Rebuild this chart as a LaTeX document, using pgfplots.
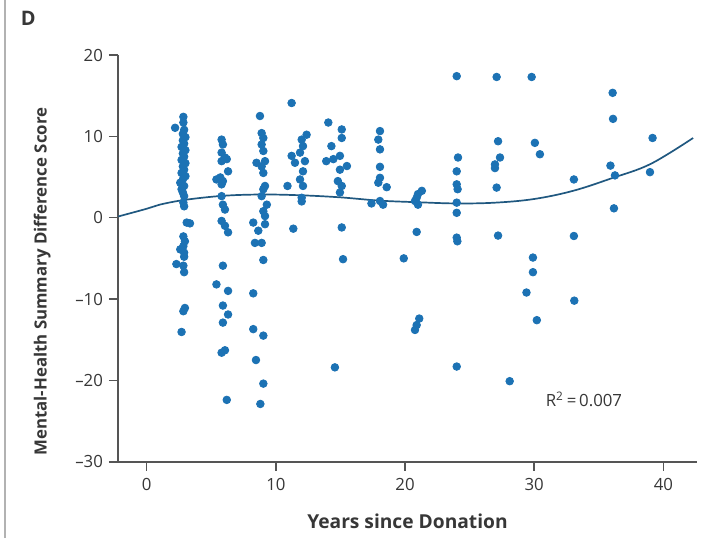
\documentclass[border=0pt]{standalone}
\usepackage{pgfplots}
\pgfplotsset{compat=1.18}
\usepackage{fontspec}
\setmainfont{Open Sans}
\definecolor{dotblue}{RGB}{28,114,180}
\definecolor{fitblue}{RGB}{32,88,128}
\definecolor{axgray}{RGB}{85,85,85}
\definecolor{txtgray}{RGB}{55,55,55}
\begin{document}
\begin{tikzpicture}
\fill[white] (-59pt,-38.15pt) rectangle (294.5pt,230.85pt);
\useasboundingbox (-59pt,-38.15pt) rectangle (294.5pt,230.85pt);
\draw[gray!60,line width=1.3pt] (-56.5pt,-38.15pt) -- (-56.5pt,230.85pt);
\begin{axis}[
  at={(0,0)}, anchor=south west,
  scale only axis, width=289.5pt, height=203.35pt,
  xmin=-2.22, xmax=42.6, ymin=-30, ymax=20,
  axis lines*=left,
  axis line style={axgray, line width=0.9pt},
  xtick={0,10,20,30,40}, ytick={-30,-20,-10,0,10,20},
  yticklabels={--30,--20,--10,0,10,20},
  tick style={axgray, line width=0.8pt},
  tick align=outside, major tick length=4.5pt,
  tick label style={font=\fontsize{8.4}{10}\selectfont, text=txtgray},
  /pgf/number format/assume math mode=true,
  xticklabel style={yshift=-0.5pt},
  yticklabel style={xshift=0.5pt},
  xlabel={Years since Donation},
  ylabel={Mental-Health Summary Difference Score},
  xlabel style={font=\bfseries\fontsize{9.6}{11}\selectfont, text=txtgray, at={(axis description cs:0.5,-0.146)}, anchor=center},
  ylabel style={font=\bfseries\fontsize{8.4}{10}\selectfont, text=txtgray, at={(axis description cs:-0.131,0.443)}, anchor=center, rotate=0},
  clip=false,
]
\addplot[fitblue, line width=0.85pt, smooth, tension=0.6] coordinates {
(-2.2,0.15) (0,1.1) (1,1.6) (3,2.2) (6,2.7) (9,2.85) (12,2.75) (15,2.5) (18,2.1)
(21,1.9) (24,1.75) (27,1.85) (30,2.3) (33,3.3) (36,4.85) (39,6.6) (42.3,9.8)
};
\addplot[only marks, mark=*, mark size=1.9pt, color=dotblue, mark options={draw=dotblue, fill=dotblue}] coordinates {
(2.2,11.05) (2.84,12.4) (2.84,11.7) (2.9,10.8) (2.8,10.3) (3.0,9.9) (2.8,9.5) (2.9,9.1)
(2.7,8.7) (3.0,8.3) (2.8,7.9) (2.9,7.5) (2.7,7.1) (3.0,6.7) (2.8,6.3) (2.9,5.9)
(2.7,5.5) (3.0,5.1) (2.8,4.7) (2.6,4.3) (2.9,3.9) (2.7,3.5) (2.8,3.1) (2.9,2.65)
(2.84,1.85) (2.9,1.4) (3.1,-0.6) (3.35,-0.7) (2.84,-2.3) (2.96,-2.9) (2.6,-3.9) (2.84,-3.5)
(2.9,-4.3) (2.9,-4.8) (2.3,-5.7) (2.84,-5.9) (2.9,-6.7) (2.96,-11.1) (2.84,-11.5) (2.7,-14.05)
(5.8,9.6) (5.9,9.0) (5.8,8.0) (6.06,7.4) (6.2,7.2) (5.8,6.95) (6.3,5.7) (5.7,4.95)
(5.4,4.7) (5.9,4.5) (5.8,4.1) (5.8,2.65) (5.9,1.6) (6.06,1.0) (5.8,-0.4) (6.06,-1.0)
(6.3,-1.8) (5.9,-5.9) (5.4,-8.2) (6.3,-9.0) (5.9,-10.8) (6.3,-11.9) (5.9,-12.9) (5.8,-16.6)
(6.06,-16.3) (6.2,-22.4)
(8.77,12.5) (8.9,10.4) (9.03,9.8) (8.9,9.0) (9.03,8.2) (9.16,6.95) (8.5,6.75) (8.9,6.3)
(9.03,5.5) (9.16,3.9) (9.03,3.5) (8.9,2.65) (9.3,1.6) (9.03,0.8) (9.16,0.2) (8.25,-0.6)
(9.16,-0.8) (8.64,-1.6) (8.38,-3.1) (8.9,-3.1) (9.03,-5.2) (8.25,-9.3) (8.25,-13.7) (9.03,-14.5)
(8.46,-17.5) (9.03,-20.4) (8.8,-22.9)
(11.22,14.1) (12.38,10.2) (12.0,9.6) (12.1,8.8) (11.22,7.6) (11.87,8.0) (11.48,6.75) (12.25,6.95)
(12.1,5.7) (11.87,4.7) (10.9,3.9) (12.1,3.9) (12.0,2.45) (12.0,2.0) (11.35,-1.35)
(14.06,11.7) (13.9,6.95) (15.1,10.85) (15.1,9.8) (14.3,8.8) (14.96,7.6) (14.45,7.2) (15.5,6.35)
(14.96,5.9) (14.8,4.5) (15.1,3.9) (14.96,3.1) (15.1,-1.2) (15.2,-5.1) (14.57,-18.4)
(18.06,10.65) (17.93,9.6) (18.06,8.4) (18.06,6.25) (18.06,4.9) (17.93,4.3) (18.58,3.75) (17.4,1.75)
(18.06,2.05) (18.3,1.6) (19.9,-5.0)
(21.3,3.3) (21.0,2.9) (20.9,2.45) (20.77,2.05) (21.0,1.6) (20.9,-1.75) (20.77,-13.8) (20.9,-13.2) (21.1,-12.4)
(24.0,17.4) (24.1,7.4) (24.0,5.7) (24.0,4.1) (24.07,3.5) (24.0,1.85) (24.0,0.6) (24.0,-2.45)
(24.05,-2.9) (24.0,-18.3)
(27.09,17.3) (27.2,9.4) (27.35,7.4) (26.96,6.55) (26.96,6.1) (27.09,3.7) (27.2,-2.2) (28.1,-20.1)
(29.8,17.3) (30.05,9.2) (30.44,7.8) (29.9,-4.9) (29.9,-6.7) (29.4,-9.2) (30.2,-12.6)
(33.07,4.7) (33.07,-2.25) (33.1,-10.2)
(36.07,15.35) (36.1,12.15) (35.9,6.4) (36.25,5.2) (36.17,1.15)
(39.16,9.8) (38.96,5.6)
};
\node[font=\fontsize{8.4}{10}\selectfont, text=txtgray] at (axis cs:33.85,-22.3) {R\textsuperscript{2}\,=\,0.007};
\node[font=\bfseries\fontsize{10}{11}\selectfont, text=txtgray] at (axis description cs:-0.155,1.091) {D};
\end{axis}
\end{tikzpicture}
\end{document}
